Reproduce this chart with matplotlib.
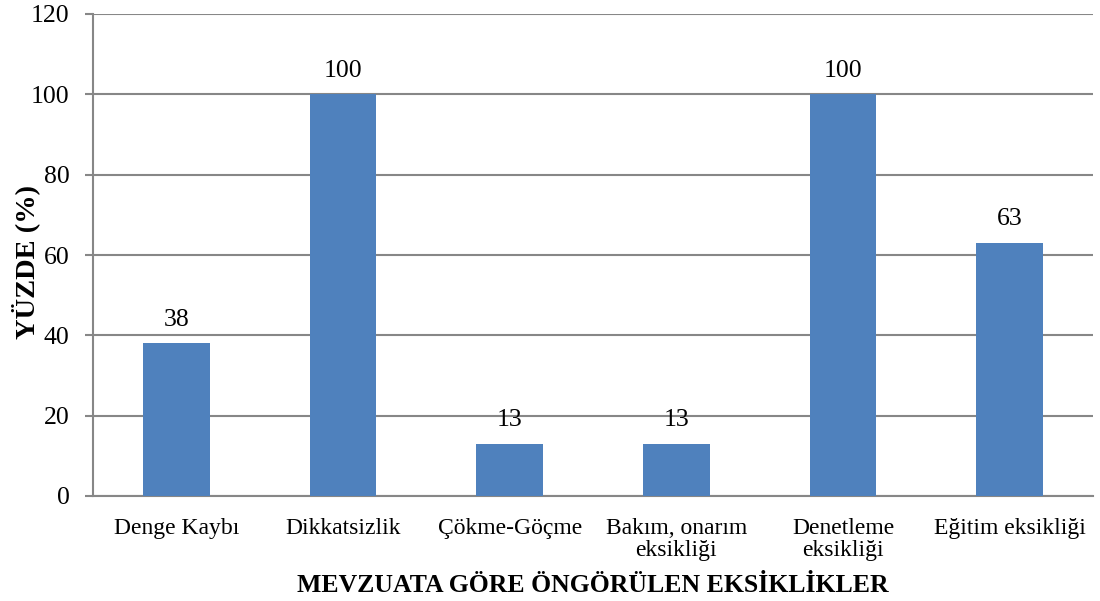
import matplotlib
matplotlib.use("Agg")
import matplotlib.pyplot as plt

categories = ["Denge Kaybı", "Dikkatsizlik", "Çökme-Göçme", "Bakım, onarım\neksikliği",
              "Denetleme\neksikliği", "Eğitim eksikliği"]
values = [38, 100, 13, 13, 100, 63]
yticks = [0, 20, 40, 60, 80, 100, 120]

plt.rcParams['font.family'] = ['Liberation Serif', 'DejaVu Serif']

fig = plt.figure(figsize=(11, 6.01), dpi=100)
ax = fig.add_axes([93 / 1100, 1 - 496 / 601, 1000 / 1100, 482 / 601])

x = range(len(categories))
bars = ax.bar(x, values, width=0.4, color='#4F81BD', zorder=3)

for b, v in zip(bars, values):
    ax.annotate(str(v), (b.get_x() + b.get_width() / 2, v), xytext=(0, 9),
                textcoords='offset points', ha='center', va='bottom', fontsize=18.5)

ax.set_xlim(-0.5, len(categories) - 0.5)
ax.set_ylim(0, 120)
ax.set_yticks(yticks)
ax.set_xticks(list(x))
ax.set_xticklabels(categories, fontsize=17, linespacing=1.05)
ax.tick_params(axis='y', labelsize=18.5, length=6, color='#878787', width=1.5, pad=11)
ax.tick_params(axis='x', length=0, pad=16)
ax.yaxis.grid(True, color='#878787', linewidth=1.5, zorder=0)

for s in ['top', 'right']:
    ax.spines[s].set_visible(False)
for s in ['left', 'bottom']:
    ax.spines[s].set_color('#878787')
    ax.spines[s].set_linewidth(1.5)

ax.set_ylabel('YÜZDE (%)', fontsize=20.5, fontweight='bold', va='center')
ax.yaxis.set_label_coords(-0.067, 0.485)
ax.set_xlabel('MEVZUATA GÖRE ÖNGÖRÜLEN EKSİKLİKLER', fontsize=18.5, fontweight='bold', va='center')
ax.xaxis.set_label_coords(0.5, -0.185)

fig.savefig('out.png', dpi=100)
